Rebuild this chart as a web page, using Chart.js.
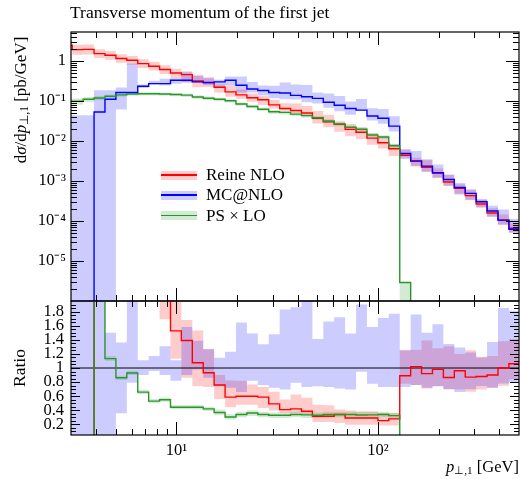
<!DOCTYPE html>
<html lang="de">
<head>
<meta charset="UTF-8">
<title>Transverse momentum of the first jet</title>
<script src="https://cdn.jsdelivr.net/npm/chart.js"></script>
<style>
  body { margin: 0; background: #fff; }
  #plot { position: relative; width: 520px; height: 479px; font-family: "Liberation Serif", serif; color: #000; overflow: hidden; }
  #plot canvas { position: absolute; left: 0; top: 0; }
  .txt { position: absolute; white-space: nowrap; font-size: 17px; line-height: 1; }
  .rot { transform: translate(-50%, -50%) rotate(-90deg); }
  .key { position: absolute; left: 161px; width: 36px; height: 9px; }
  .key span { position: absolute; left: 0; right: 0; top: 3.75px; height: 1.5px; }
  sub { font-size: 0.68em; vertical-align: -0.2em; line-height: 0; }
</style>
</head>
<body>
<div id="plot">
  <canvas id="main" width="520" height="479"></canvas>
  <canvas id="ratio" width="520" height="479"></canvas>

  <div class="txt" style="left:70px;top:3.8px;font-size:17.5px">Transverse momentum of the first jet</div>
  <div class="txt rot" style="left:19.5px;top:100px">d<i>σ</i>/d<i>p</i><sub>⊥,1</sub> [pb/GeV]</div>
  <div class="txt rot" style="left:19.5px;top:368px;font-size:17.5px">Ratio</div>
  <div class="txt" style="right:1px;top:459px;font-size:16.5px"><i>p</i><sub>⊥,1</sub> [GeV]</div>

  <div class="key" style="top:170.5px;background:rgba(255,0,0,0.2)"><span style="background:#ff0000"></span></div>
  <div class="txt" style="left:206px;top:165.8px">Reine NLO</div>
  <div class="key" style="top:190.5px;background:rgba(0,0,255,0.2)"><span style="background:#0000ff"></span></div>
  <div class="txt" style="left:206px;top:185.8px">MC@NLO</div>
  <div class="key" style="top:211.2px;background:rgba(40,150,40,0.2)"><span style="background:rgb(40,150,40)"></span></div>
  <div class="txt" style="left:206px;top:206.5px">PS × LO</div>
</div>

<script>
// bin edges in GeV
const binEdges = [2.686, 3.042, 3.446, 3.904, 4.422, 5.010, 5.675, 6.429, 7.283, 8.250, 9.344,
  10.58, 11.99, 13.58, 15.38, 17.43, 19.74, 22.36, 25.33, 28.69, 32.50, 36.81, 41.70, 47.24,
  53.51, 60.61, 68.66, 77.78, 88.10, 99.79, 113.0, 128.1, 145.1, 164.3, 186.1, 210.9, 238.9,
  270.6, 306.5, 347.2, 393.3, 445.5, 504.7];

// dsigma/dpT [pb/GeV], one value per bin
const reineNLO = [2.47, 1.92, 1.95, 1.53, 1.39, 1.15, 1.04, 0.86, 0.74, 0.61, 0.50, 0.457, 0.317,
  0.288, 0.22, 0.169, 0.142, 0.12, 0.107, 0.08, 0.065, 0.058, 0.05, 0.037, 0.030, 0.026, 0.0195,
  0.0165, 0.0118, 0.009, 0.0064, 0.0044, 0.0031, 0.0022, 0.00157, 0.00094, 0.00066, 0.00043,
  0.000266, 0.000159, 0.000105, 0.000066];
const reineNLOLow = [1.85, 1.44, 1.46, 1.19, 1.08, 0.90, 0.81, 0.67, 0.58, 0.47, 0.37, 0.283, 0.219,
  0.225, 0.163, 0.128, 0.114, 0.096, 0.079, 0.065, 0.0575, 0.050, 0.044, 0.0274, 0.0222, 0.0169,
  0.0131, 0.0112, 0.008, 0.0065, 0.0042, 0.0038, 0.0023, 0.0017, 0.0012, 0.00076, 0.00048,
  0.00033, 0.00021, 0.000127, 0.000079, 0.000052];
const reineNLOHigh = [3.29, 2.55, 2.59, 1.96, 1.78, 1.47, 1.33, 1.10, 0.95, 0.78, 0.64, 0.553, 0.45,
  0.39, 0.26, 0.237, 0.195, 0.154, 0.133, 0.108, 0.0878, 0.086, 0.0745, 0.0562, 0.045, 0.0312,
  0.0265, 0.0219, 0.0157, 0.0129, 0.0084, 0.0062, 0.0038, 0.0033, 0.00205, 0.00142, 0.00083,
  0.00062, 0.00035, 0.000207, 0.000145, 0.000088];

const mcAtNLO = [0, 0, 0, 0.053, 0.11, 0.163, 0.163, 0.233, 0.272, 0.272, 0.33, 0.33, 0.30, 0.29,
  0.30, 0.33, 0.247, 0.20, 0.182, 0.163, 0.158, 0.138, 0.128, 0.116, 0.093, 0.078, 0.065, 0.059,
  0.042, 0.037, 0.0235, 0.00488, 0.00319, 0.00235, 0.0016, 0.00109, 0.00069, 0.00049, 0.000302,
  0.000177, 0.000105, 0.000062];
const mcAtNLOLow = [0, 0, 0, 0, 0, 0.061, 0.153, 0.21, 0.26, 0.245, 0.27, 0.30, 0.29, 0.25, 0.22,
  0.24, 0.163, 0.164, 0.138, 0.117, 0.110, 0.109, 0.093, 0.086, 0.068, 0.055, 0.045, 0.056, 0.0326,
  0.027, 0.0172, 0.00356, 0.0024, 0.0017, 0.0012, 0.00076, 0.00046, 0.00034, 0.000225, 0.000127,
  0.000082, 0.00005];
const mcAtNLOHigh = [0.044, 0.044, 0.044, 0.186, 0.186, 0.216, 0.86, 0.26, 0.32, 0.36, 0.37, 0.52,
  0.42, 0.37, 0.34, 0.41, 0.41, 0.298, 0.243, 0.241, 0.289, 0.257, 0.251, 0.164, 0.154, 0.134,
  0.097, 0.112, 0.066, 0.063, 0.0416, 0.0061, 0.0056, 0.0035, 0.0026, 0.00146, 0.00089, 0.0006,
  0.000347, 0.000242, 0.000194, 0.000112];

const psLO = [0.0986, 0.0986, 0.11, 0.119, 0.131, 0.142, 0.150, 0.152, 0.152, 0.150, 0.145, 0.140,
  0.126, 0.117, 0.110, 0.101, 0.084, 0.073, 0.062, 0.054, 0.052, 0.047, 0.043, 0.038, 0.0316,
  0.0265, 0.022, 0.0196, 0.0141, 0.0126, 0.0076, 0.0000029, 0, 0, 0, 0, 0, 0, 0, 0, 0, 0];
const psLOLow = [0.080, 0.080, 0.093, 0.104, 0.118, 0.128, 0.136, 0.138, 0.138, 0.136, 0.131, 0.126,
  0.113, 0.105, 0.099, 0.091, 0.076, 0.066, 0.056, 0.048, 0.046, 0.042, 0.038, 0.034, 0.028,
  0.0235, 0.0195, 0.0174, 0.0125, 0.0112, 0.0067, 0, 0, 0, 0, 0, 0, 0, 0, 0, 0, 0];
const psLOHigh = [0.115, 0.115, 0.126, 0.134, 0.145, 0.156, 0.164, 0.166, 0.166, 0.164, 0.159, 0.154,
  0.139, 0.129, 0.121, 0.111, 0.092, 0.080, 0.068, 0.060, 0.058, 0.052, 0.048, 0.042, 0.035,
  0.0295, 0.0245, 0.0218, 0.0157, 0.014, 0.0085, 0.000003, 0, 0, 0, 0, 0, 0, 0, 0, 0, 0];

// ratio to MC@NLO
const reineRatio = [0, 0, 0, 29, 12, 7, 6.4, 3.7, 2.7, 2.2, 1.527, 1.39, 1.075, 0.933, 0.758, 0.587,
  0.60, 0.60, 0.587, 0.491, 0.41, 0.42, 0.387, 0.316, 0.316, 0.34, 0.292, 0.29, 0.29, 0.254, 0.278,
  0.89, 1.02, 0.92, 0.98, 0.865, 0.96, 0.87, 0.88, 0.90, 1.0, 1.06];
const reineRatioLow = [0, 0, 0, 22, 9, 5.4, 5, 2.9, 2.1, 1.69, 1.13, 0.86, 0.74, 0.73, 0.56, 0.444,
  0.48, 0.48, 0.434, 0.396, 0.363, 0.363, 0.34, 0.235, 0.235, 0.22, 0.197, 0.197, 0.197, 0.183,
  0.183, 0.776, 0.76, 0.71, 0.74, 0.70, 0.695, 0.662, 0.695, 0.72, 0.75, 0.84];
const reineRatioHigh = [0, 0, 0, 37, 15, 9, 8.3, 4.7, 3.4, 2.8, 2.2, 1.68, 1.53, 1.27, 0.90, 0.823,
  0.82, 0.767, 0.73, 0.662, 0.553, 0.624, 0.577, 0.48, 0.473, 0.41, 0.396, 0.387, 0.387, 0.363,
  0.363, 1.25, 1.26, 1.39, 1.28, 1.31, 1.2, 1.25, 1.16, 1.17, 1.38, 1.41];
const mcAtNLORatioLow = [0, 0, 0, 0, 0, 0.36, 0.79, 0.9, 0.957, 0.9, 0.82, 0.9, 0.98, 0.86, 0.74,
  0.72, 0.66, 0.82, 0.76, 0.72, 0.695, 0.79, 0.73, 0.74, 0.73, 0.71, 0.695, 0.947, 0.776, 0.73,
  0.73, 0.73, 0.76, 0.72, 0.74, 0.70, 0.66, 0.70, 0.745, 0.72, 0.78, 0.80];
const mcAtNLORatioHigh = [5, 5, 5, 5, 1.5, 1.36, 5, 1.11, 1.17, 1.31, 1.11, 1.58, 1.385, 1.265,
  1.147, 1.232, 1.645, 1.49, 1.336, 1.48, 1.83, 1.86, 2.1, 1.41, 1.66, 1.72, 1.49, 1.9, 1.58, 1.71,
  1.77, 1.25, 1.76, 1.5, 1.62, 1.34, 1.29, 1.22, 1.15, 1.37, 1.85, 1.81];
const psLORatio = [0, 0, 0, 2.2, 1.133, 0.862, 0.93, 0.658, 0.53, 0.55, 0.444, 0.444, 0.444, 0.42,
  0.37, 0.306, 0.34, 0.363, 0.34, 0.33, 0.33, 0.34, 0.335, 0.33, 0.34, 0.34, 0.34, 0.333, 0.335,
  0.34, 0.325, 0.0006, 0, 0, 0, 0, 0, 0, 0, 0, 0, 0];
const psLORatioLow = [0, 0, 0, 2.1, 1.10, 0.83, 0.90, 0.63, 0.50, 0.52, 0.415, 0.415, 0.41, 0.39,
  0.33, 0.27, 0.30, 0.32, 0.30, 0.29, 0.29, 0.30, 0.29, 0.29, 0.30, 0.30, 0.30, 0.29, 0.29, 0.30,
  0.28, 0, 0, 0, 0, 0, 0, 0, 0, 0, 0, 0];
const psLORatioHigh = [0, 0, 0, 2.3, 1.17, 0.89, 0.96, 0.69, 0.56, 0.58, 0.475, 0.475, 0.475, 0.45,
  0.41, 0.345, 0.38, 0.40, 0.38, 0.37, 0.37, 0.38, 0.38, 0.37, 0.38, 0.38, 0.38, 0.375, 0.375, 0.38,
  0.365, 0.001, 0, 0, 0, 0, 0, 0, 0, 0, 0, 0];
const ratioReference = 1;

// axis ticks
const xTickValues = [10, 100];
const xTickLabels = ['10¹', '10²'];
const mainTickValues = [1e-5, 1e-4, 1e-3, 1e-2, 1e-1, 1];
const mainTickLabels = ['10⁻⁵', '10⁻⁴', '10⁻³', '10⁻²', '10⁻¹', '1'];
const ratioTickValues = [0.2, 0.4, 0.6, 0.8, 1, 1.2, 1.4, 1.6, 1.8];
const ratioTickLabels = ['0.2', '0.4', '0.6', '0.8', '1', '1.2', '1.4', '1.6', '1.8'];

const X_MIN = 3, X_MAX = 500;
const RED = '#ff0000', BLUE = '#0000ff', GREEN = 'rgb(40,150,40)';
const serif = '"Liberation Serif", serif';

Chart.defaults.font.family = serif;
Chart.defaults.color = '#000';

// empty bins sit far below a log axis
function hist(vals, floor) {
  const pts = [];
  vals.forEach((v, i) => {
    const y = (floor && !(v > 0)) ? floor : v;
    pts.push({ x: binEdges[i], y: y });
    pts.push({ x: binEdges[i + 1], y: y });
  });
  return pts;
}

function lineSet(vals, color, order, floor) {
  return { data: hist(vals, floor), borderColor: color, borderWidth: 1.4, pointRadius: 0,
           fill: false, tension: 0, order: order };
}

function bandSets(lo, hi, color, order, floor) {
  return [
    { data: hist(lo, floor), borderColor: 'rgba(0,0,0,0)', borderWidth: 0, pointRadius: 0,
      fill: false, order: order },
    { data: hist(hi, floor), borderColor: 'rgba(0,0,0,0)', borderWidth: 0, pointRadius: 0,
      fill: '-1', backgroundColor: color, order: order }
  ];
}

// inward tick marks and frame
function frameTicks(t) {
  return {
    id: 'frameTicks',
    afterDraw(chart) {
      const { ctx, chartArea: a } = chart;
      const xs = chart.scales.x, ys = chart.scales.y;
      ctx.save();
      ctx.strokeStyle = '#000';
      ctx.lineWidth = 1;
      ctx.beginPath();
      const vx = (v, len) => {
        const p = Math.round(xs.getPixelForValue(v)) + 0.5;
        ctx.moveTo(p, a.top); ctx.lineTo(p, a.top + len);
        ctx.moveTo(p, a.bottom); ctx.lineTo(p, a.bottom - len);
      };
      const hy = (v, len) => {
        const p = Math.round(ys.getPixelForValue(v)) + 0.5;
        ctx.moveTo(a.left, p); ctx.lineTo(a.left + len, p);
        ctx.moveTo(a.right, p); ctx.lineTo(a.right - len, p);
      };
      t.xMajor.forEach(v => vx(v, 13));
      t.xMinor.forEach(v => vx(v, 6));
      t.yMajor.forEach(v => hy(v, t.yMajorLen));
      t.yMinor.forEach(v => hy(v, t.yMinorLen));
      ctx.stroke();
      ctx.lineWidth = 1.2;
      ctx.strokeRect(a.left, a.top, a.right - a.left, a.bottom - a.top);
      ctx.restore();
    }
  };
}

const xMinor = [4, 5, 6, 7, 8, 9, 20, 30, 40, 50, 60, 70, 80, 90, 200, 300, 400];
const mainMinor = [];
for (let e = -6; e <= 0; e++) {
  for (let m = 2; m <= 9; m++) {
    const v = m * Math.pow(10, e);
    if (v < 5.3) mainMinor.push(v);
  }
}
const ratioMinor = [];
for (let i = 2; i <= 38; i++) {
  if (i % 4 !== 0) ratioMinor.push(i * 0.05);
}

const LOG_FLOOR = 1e-9;
const tickFont = { family: serif, size: 16.5 };

// upper panel
new Chart(document.getElementById('main'), {
  type: 'line',
  data: {
    datasets: [
      ...bandSets(reineNLOLow, reineNLOHigh, 'rgba(255,0,0,0.2)', 12, LOG_FLOOR),
      ...bandSets(mcAtNLOLow, mcAtNLOHigh, 'rgba(0,0,255,0.2)', 11, LOG_FLOOR),
      ...bandSets(psLOLow, psLOHigh, 'rgba(40,150,40,0.2)', 10, LOG_FLOOR),
      lineSet(reineNLO, RED, 3, LOG_FLOOR),
      lineSet(mcAtNLO, BLUE, 2, LOG_FLOOR),
      lineSet(psLO, GREEN, 1, LOG_FLOOR)
    ]
  },
  options: {
    responsive: false,
    animation: false,
    events: [],
    layout: { padding: { top: 32, right: 1, bottom: 178, left: 0 } },
    plugins: { legend: { display: false }, tooltip: { enabled: false } },
    scales: {
      x: { type: 'logarithmic', min: X_MIN, max: X_MAX, display: false },
      y: {
        type: 'logarithmic', min: 1e-6, max: 5.3,
        afterFit: s => { s.width = 71; },
        afterBuildTicks: s => { s.ticks = mainTickValues.map(v => ({ value: v })); },
        grid: { display: false, drawTicks: false },
        border: { display: false },
        ticks: { autoSkip: false, padding: 5, font: tickFont,
                 callback: (v, i) => mainTickLabels[i] }
      }
    }
  },
  plugins: [frameTicks({ xMajor: xTickValues, xMinor: xMinor, yMajor: mainTickValues,
                         yMinor: mainMinor, yMajorLen: 13, yMinorLen: 6 })]
});

// ratio panel
new Chart(document.getElementById('ratio'), {
  type: 'line',
  data: {
    datasets: [
      ...bandSets(reineRatioLow, reineRatioHigh, 'rgba(255,0,0,0.2)', 12),
      ...bandSets(mcAtNLORatioLow, mcAtNLORatioHigh, 'rgba(0,0,255,0.2)', 11),
      ...bandSets(psLORatioLow, psLORatioHigh, 'rgba(40,150,40,0.2)', 10),
      { data: [{ x: X_MIN, y: ratioReference }, { x: X_MAX, y: ratioReference }],
        borderColor: '#000', borderWidth: 1, pointRadius: 0, fill: false, order: 4 },
      lineSet(reineRatio, RED, 3),
      lineSet(psLORatio, GREEN, 1)
    ]
  },
  options: {
    responsive: false,
    animation: false,
    events: [],
    layout: { padding: { top: 301, right: 1, bottom: 0, left: 0 } },
    plugins: { legend: { display: false }, tooltip: { enabled: false } },
    scales: {
      x: {
        type: 'logarithmic', min: X_MIN, max: X_MAX,
        afterFit: s => { s.height = 44; },
        afterBuildTicks: s => { s.ticks = xTickValues.map(v => ({ value: v })); },
        grid: { display: false, drawTicks: false },
        border: { display: false },
        ticks: { autoSkip: false, maxRotation: 0, padding: 6, font: tickFont,
                 callback: (v, i) => xTickLabels[i] }
      },
      y: {
        type: 'linear', min: 0.05, max: 1.95,
        afterFit: s => { s.width = 71; },
        afterBuildTicks: s => { s.ticks = ratioTickValues.map(v => ({ value: v })); },
        grid: { display: false, drawTicks: false },
        border: { display: false },
        ticks: { autoSkip: false, padding: 7, font: tickFont,
                 callback: (v, i) => ratioTickLabels[i] }
      }
    }
  },
  plugins: [frameTicks({ xMajor: xTickValues, xMinor: xMinor, yMajor: ratioTickValues,
                         yMinor: ratioMinor, yMajorLen: 9, yMinorLen: 5 })]
});
</script>
</body>
</html>
